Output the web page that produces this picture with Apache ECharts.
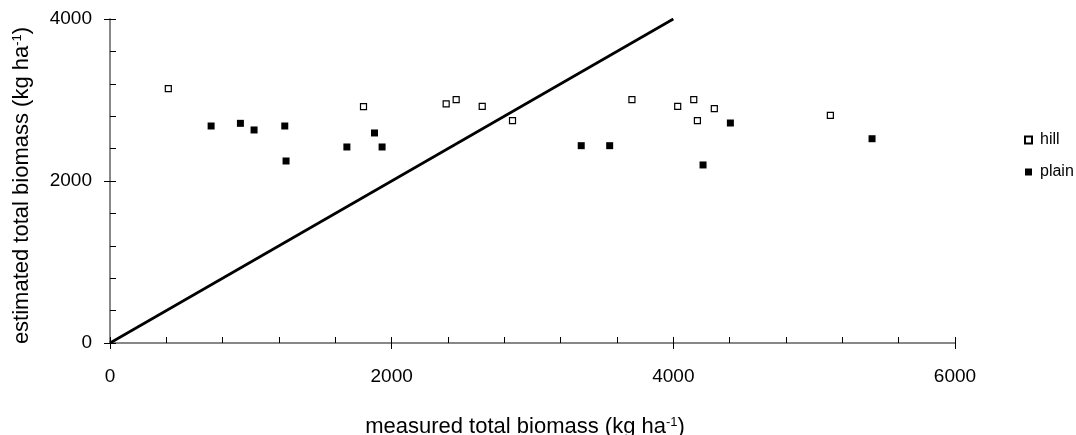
<!DOCTYPE html>
<html>
<head>
<meta charset="utf-8">
<script src="https://cdn.jsdelivr.net/npm/echarts@6/dist/echarts.min.js"></script>
<style>
  html, body { margin: 0; padding: 0; background: #fff; }
  #chart { width: 1076px; height: 435px; }
</style>
</head>
<body>
<div id="chart"></div>
<script>
// Measured vs. estimated total biomass (kg ha-1), by site type
const hillMeasured   = [414, 1800, 2387, 2458, 2643, 2858, 3706, 4031, 4145, 4171, 4291, 5115];
const hillEstimated  = [3140, 2917, 2951, 3004, 2922, 2745, 3004, 2922, 3004, 2745, 2893, 2811];
const plainMeasured  = [718, 926, 1023, 1241, 1250, 1682, 1878, 1932, 3346, 3548, 4211, 4405, 5411];
const plainEstimated = [2679, 2712, 2630, 2679, 2247, 2420, 2593, 2420, 2436, 2436, 2198, 2716, 2522];
// 1:1 reference line
const oneToOneX = [0, 4000];
const oneToOneY = [0, 4000];
const xTicks = [0, 2000, 4000, 6000];
const yTicks = [0, 2000, 4000];

const FONT = '"Liberation Sans", Arial, sans-serif';
const zip = (a, b) => a.map((v, i) => [v, b[i]]);

const titleRich = {
  t: { fontFamily: FONT, fontSize: 22, color: '#000' },
  s: { fontFamily: FONT, fontSize: 13, color: '#000', verticalAlign: 'top', padding: [0, 0, 9, 0] }
};

const axisLine = { show: true, lineStyle: { color: '#808080', width: 1.5 } };
const plain = v => String(v);

const chart = echarts.init(document.getElementById('chart'), null, { renderer: 'canvas' });
chart.setOption({
  animation: false,
  backgroundColor: '#fff',
  grid: { left: 110, right: 121, top: 19, bottom: 92, containLabel: false, outerBoundsMode: 'none' },
  legend: {
    data: ['hill', 'plain'],
    orient: 'vertical',
    left: 1024,
    top: 132,
    padding: 0,
    itemWidth: 7,
    itemHeight: 7,
    itemGap: 16,
    textStyle: { fontFamily: FONT, fontSize: 16, color: '#000', padding: [0, 0, 0, 3] }
  },
  xAxis: [
    {
      type: 'value', min: 0, max: 6000, interval: 2000,
      axisLine,
      axisTick: { show: true, inside: false, length: 6, lineStyle: { color: '#000', width: 1 } },
      axisLabel: {
        fontFamily: FONT, fontSize: 19, color: '#000', margin: 24,
        formatter: plain, customValues: xTicks
      },
      splitLine: { show: false },
      name: '{t|measured total biomass (kg ha}{s|-1}{t|)}',
      nameLocation: 'middle',
      nameGap: 73,
      nameTextStyle: { rich: titleRich, padding: [0, 15, 0, 0] }
    },
    {
      type: 'value', min: 0, max: 6000, interval: 400, position: 'bottom',
      axisLine,
      axisTick: { show: true, inside: true, length: 6, lineStyle: { color: '#000', width: 1 } },
      axisLabel: { show: false },
      splitLine: { show: false }
    }
  ],
  yAxis: [
    {
      type: 'value', min: 0, max: 4000, interval: 2000,
      axisLine,
      axisTick: { show: true, inside: false, length: 6, lineStyle: { color: '#000', width: 1 } },
      axisLabel: {
        fontFamily: FONT, fontSize: 19, color: '#000', margin: 18,
        formatter: plain, customValues: yTicks
      },
      splitLine: { show: false },
      name: '{t|estimated total biomass (kg ha}{s|-1}{t|)}',
      nameLocation: 'middle',
      nameGap: 77,
      nameRotate: 90,
      nameTextStyle: { rich: titleRich, padding: [0, 9, 0, 0] }
    },
    {
      type: 'value', min: 0, max: 4000, interval: 400, position: 'left',
      axisLine,
      axisTick: { show: true, inside: true, length: 6, lineStyle: { color: '#000', width: 1 } },
      axisLabel: { show: false },
      splitLine: { show: false }
    }
  ],
  series: [
    {
      name: '1:1',
      type: 'line',
      data: zip(oneToOneX, oneToOneY),
      showSymbol: false,
      lineStyle: { color: '#000', width: 2.6 },
      silent: true,
      z: 1
    },
    {
      name: 'hill',
      type: 'scatter',
      symbol: 'rect',
      symbolSize: 6,
      data: zip(hillMeasured, hillEstimated),
      itemStyle: { color: '#fff', borderColor: '#000', borderWidth: 1.2, opacity: 1 },
      z: 3
    },
    {
      name: 'plain',
      type: 'scatter',
      symbol: 'rect',
      symbolSize: 7,
      data: zip(plainMeasured, plainEstimated),
      itemStyle: { color: '#000', opacity: 1 },
      z: 3
    }
  ]
});
</script>
</body>
</html>
